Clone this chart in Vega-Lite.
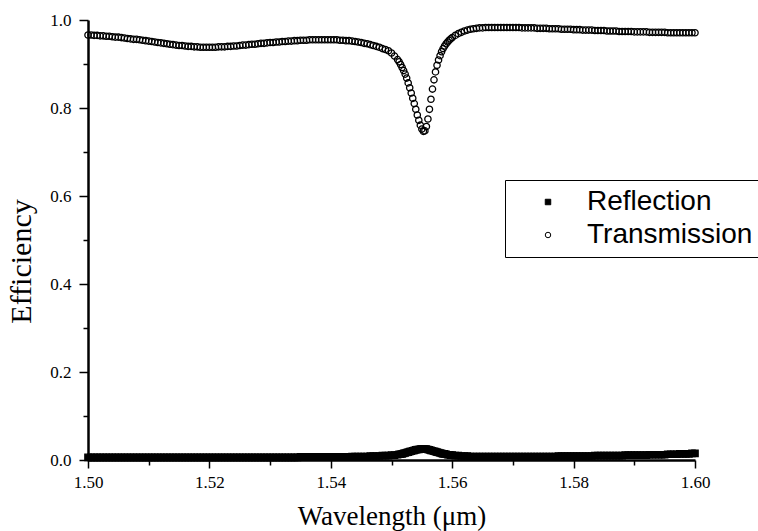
{
  "$schema": "https://vega.github.io/schema/vega-lite/v6.json",
  "width": 607,
  "height": 440,
  "autosize": "none",
  "padding": {"left": 88, "top": 20, "right": 63, "bottom": 71},
  "background": "white",
  "config": {
    "view": {"stroke": null},
    "axis": {
      "domainColor": "black", "domainWidth": 2.5, "tickColor": "black", "tickWidth": 1.5,
      "labelFont": "Liberation Serif", "labelFontSize": 17, "labelColor": "black",
      "titleFont": "Liberation Serif", "titleFontSize": 27, "titleFontWeight": "normal", "titleColor": "black",
      "grid": false
    },
    "legend": {
      "title": null, "orient": "none", "legendX": 417, "legendY": 160,
      "strokeColor": "black", "fillColor": "white", "padding": 8,
      "labelFont": "Liberation Sans", "labelFontSize": 28, "labelColor": "black", "labelLimit": 400,
      "symbolOffset": 21, "labelOffset": 25, "rowPadding": 5,
      "symbolSize": 30, "symbolStrokeColor": "black", "symbolStrokeWidth": 1
    }
  },
  "data": {"values": [
    {"w":1.5000,"Reflection":0.006,"Transmission":0.966},
    {"w":1.5005,"Reflection":0.006,"Transmission":0.966},
    {"w":1.5010,"Reflection":0.006,"Transmission":0.965},
    {"w":1.5015,"Reflection":0.006,"Transmission":0.965},
    {"w":1.5020,"Reflection":0.006,"Transmission":0.964},
    {"w":1.5025,"Reflection":0.006,"Transmission":0.964},
    {"w":1.5030,"Reflection":0.006,"Transmission":0.963},
    {"w":1.5035,"Reflection":0.006,"Transmission":0.963},
    {"w":1.5040,"Reflection":0.006,"Transmission":0.962},
    {"w":1.5045,"Reflection":0.006,"Transmission":0.961},
    {"w":1.5050,"Reflection":0.006,"Transmission":0.961},
    {"w":1.5055,"Reflection":0.006,"Transmission":0.960},
    {"w":1.5060,"Reflection":0.006,"Transmission":0.959},
    {"w":1.5065,"Reflection":0.006,"Transmission":0.958},
    {"w":1.5070,"Reflection":0.006,"Transmission":0.957},
    {"w":1.5075,"Reflection":0.006,"Transmission":0.956},
    {"w":1.5080,"Reflection":0.006,"Transmission":0.956},
    {"w":1.5085,"Reflection":0.006,"Transmission":0.955},
    {"w":1.5090,"Reflection":0.006,"Transmission":0.954},
    {"w":1.5095,"Reflection":0.006,"Transmission":0.953},
    {"w":1.5100,"Reflection":0.006,"Transmission":0.952},
    {"w":1.5105,"Reflection":0.006,"Transmission":0.951},
    {"w":1.5110,"Reflection":0.006,"Transmission":0.950},
    {"w":1.5115,"Reflection":0.006,"Transmission":0.949},
    {"w":1.5120,"Reflection":0.006,"Transmission":0.948},
    {"w":1.5125,"Reflection":0.006,"Transmission":0.947},
    {"w":1.5130,"Reflection":0.006,"Transmission":0.946},
    {"w":1.5135,"Reflection":0.006,"Transmission":0.945},
    {"w":1.5140,"Reflection":0.006,"Transmission":0.944},
    {"w":1.5145,"Reflection":0.006,"Transmission":0.943},
    {"w":1.5150,"Reflection":0.006,"Transmission":0.942},
    {"w":1.5155,"Reflection":0.006,"Transmission":0.942},
    {"w":1.5160,"Reflection":0.006,"Transmission":0.941},
    {"w":1.5165,"Reflection":0.006,"Transmission":0.940},
    {"w":1.5170,"Reflection":0.006,"Transmission":0.940},
    {"w":1.5175,"Reflection":0.006,"Transmission":0.939},
    {"w":1.5180,"Reflection":0.006,"Transmission":0.939},
    {"w":1.5185,"Reflection":0.006,"Transmission":0.938},
    {"w":1.5190,"Reflection":0.006,"Transmission":0.938},
    {"w":1.5195,"Reflection":0.006,"Transmission":0.938},
    {"w":1.5200,"Reflection":0.006,"Transmission":0.938},
    {"w":1.5205,"Reflection":0.006,"Transmission":0.938},
    {"w":1.5210,"Reflection":0.006,"Transmission":0.938},
    {"w":1.5215,"Reflection":0.006,"Transmission":0.939},
    {"w":1.5220,"Reflection":0.006,"Transmission":0.939},
    {"w":1.5225,"Reflection":0.006,"Transmission":0.939},
    {"w":1.5230,"Reflection":0.006,"Transmission":0.940},
    {"w":1.5235,"Reflection":0.006,"Transmission":0.940},
    {"w":1.5240,"Reflection":0.006,"Transmission":0.941},
    {"w":1.5245,"Reflection":0.006,"Transmission":0.941},
    {"w":1.5250,"Reflection":0.006,"Transmission":0.942},
    {"w":1.5255,"Reflection":0.006,"Transmission":0.943},
    {"w":1.5260,"Reflection":0.006,"Transmission":0.943},
    {"w":1.5265,"Reflection":0.006,"Transmission":0.944},
    {"w":1.5270,"Reflection":0.006,"Transmission":0.945},
    {"w":1.5275,"Reflection":0.006,"Transmission":0.945},
    {"w":1.5280,"Reflection":0.006,"Transmission":0.946},
    {"w":1.5285,"Reflection":0.006,"Transmission":0.947},
    {"w":1.5290,"Reflection":0.006,"Transmission":0.947},
    {"w":1.5295,"Reflection":0.006,"Transmission":0.948},
    {"w":1.5300,"Reflection":0.006,"Transmission":0.949},
    {"w":1.5305,"Reflection":0.006,"Transmission":0.949},
    {"w":1.5310,"Reflection":0.006,"Transmission":0.950},
    {"w":1.5315,"Reflection":0.006,"Transmission":0.950},
    {"w":1.5320,"Reflection":0.006,"Transmission":0.951},
    {"w":1.5325,"Reflection":0.006,"Transmission":0.951},
    {"w":1.5330,"Reflection":0.006,"Transmission":0.952},
    {"w":1.5335,"Reflection":0.006,"Transmission":0.952},
    {"w":1.5340,"Reflection":0.006,"Transmission":0.953},
    {"w":1.5345,"Reflection":0.006,"Transmission":0.953},
    {"w":1.5350,"Reflection":0.007,"Transmission":0.954},
    {"w":1.5355,"Reflection":0.007,"Transmission":0.954},
    {"w":1.5360,"Reflection":0.007,"Transmission":0.954},
    {"w":1.5365,"Reflection":0.007,"Transmission":0.955},
    {"w":1.5370,"Reflection":0.007,"Transmission":0.955},
    {"w":1.5375,"Reflection":0.007,"Transmission":0.955},
    {"w":1.5380,"Reflection":0.007,"Transmission":0.955},
    {"w":1.5385,"Reflection":0.007,"Transmission":0.955},
    {"w":1.5390,"Reflection":0.007,"Transmission":0.955},
    {"w":1.5395,"Reflection":0.007,"Transmission":0.955},
    {"w":1.5400,"Reflection":0.007,"Transmission":0.955},
    {"w":1.5405,"Reflection":0.007,"Transmission":0.955},
    {"w":1.5410,"Reflection":0.007,"Transmission":0.955},
    {"w":1.5415,"Reflection":0.007,"Transmission":0.954},
    {"w":1.5420,"Reflection":0.007,"Transmission":0.954},
    {"w":1.5425,"Reflection":0.007,"Transmission":0.953},
    {"w":1.5430,"Reflection":0.007,"Transmission":0.953},
    {"w":1.5435,"Reflection":0.008,"Transmission":0.952},
    {"w":1.5440,"Reflection":0.008,"Transmission":0.951},
    {"w":1.5445,"Reflection":0.008,"Transmission":0.950},
    {"w":1.5450,"Reflection":0.008,"Transmission":0.949},
    {"w":1.5455,"Reflection":0.008,"Transmission":0.947},
    {"w":1.5460,"Reflection":0.008,"Transmission":0.946},
    {"w":1.5465,"Reflection":0.009,"Transmission":0.944},
    {"w":1.5470,"Reflection":0.009,"Transmission":0.942},
    {"w":1.5475,"Reflection":0.009,"Transmission":0.940},
    {"w":1.5480,"Reflection":0.009,"Transmission":0.938},
    {"w":1.5485,"Reflection":0.010,"Transmission":0.935},
    {"w":1.5490,"Reflection":0.010,"Transmission":0.933},
    {"w":1.5495,"Reflection":0.010,"Transmission":0.930},
    {"w":1.5500,"Reflection":0.011,"Transmission":0.925},
    {"w":1.5505,"Reflection":0.011,"Transmission":0.918},
    {"w":1.5510,"Reflection":0.012,"Transmission":0.910},
    {"w":1.55125,"Reflection":0.013,"Transmission":0.905},
    {"w":1.5515,"Reflection":0.013,"Transmission":0.899},
    {"w":1.55175,"Reflection":0.014,"Transmission":0.892},
    {"w":1.5520,"Reflection":0.015,"Transmission":0.885},
    {"w":1.55225,"Reflection":0.016,"Transmission":0.877},
    {"w":1.5525,"Reflection":0.017,"Transmission":0.868},
    {"w":1.55275,"Reflection":0.018,"Transmission":0.857},
    {"w":1.5530,"Reflection":0.019,"Transmission":0.846},
    {"w":1.55325,"Reflection":0.020,"Transmission":0.834},
    {"w":1.5535,"Reflection":0.021,"Transmission":0.822},
    {"w":1.55375,"Reflection":0.022,"Transmission":0.810},
    {"w":1.5540,"Reflection":0.023,"Transmission":0.797},
    {"w":1.55425,"Reflection":0.024,"Transmission":0.784},
    {"w":1.5545,"Reflection":0.024,"Transmission":0.772},
    {"w":1.55475,"Reflection":0.025,"Transmission":0.761},
    {"w":1.5550,"Reflection":0.025,"Transmission":0.752},
    {"w":1.55525,"Reflection":0.025,"Transmission":0.747},
    {"w":1.5555,"Reflection":0.025,"Transmission":0.748},
    {"w":1.55575,"Reflection":0.025,"Transmission":0.758},
    {"w":1.5560,"Reflection":0.024,"Transmission":0.775},
    {"w":1.55625,"Reflection":0.023,"Transmission":0.797},
    {"w":1.5565,"Reflection":0.022,"Transmission":0.820},
    {"w":1.55675,"Reflection":0.021,"Transmission":0.843},
    {"w":1.5570,"Reflection":0.020,"Transmission":0.864},
    {"w":1.55725,"Reflection":0.019,"Transmission":0.882},
    {"w":1.5575,"Reflection":0.018,"Transmission":0.897},
    {"w":1.55775,"Reflection":0.017,"Transmission":0.909},
    {"w":1.5580,"Reflection":0.016,"Transmission":0.919},
    {"w":1.55825,"Reflection":0.015,"Transmission":0.928},
    {"w":1.5585,"Reflection":0.014,"Transmission":0.935},
    {"w":1.55875,"Reflection":0.014,"Transmission":0.941},
    {"w":1.5590,"Reflection":0.013,"Transmission":0.946},
    {"w":1.55925,"Reflection":0.012,"Transmission":0.950},
    {"w":1.5595,"Reflection":0.012,"Transmission":0.954},
    {"w":1.55975,"Reflection":0.011,"Transmission":0.957},
    {"w":1.5600,"Reflection":0.011,"Transmission":0.960},
    {"w":1.5605,"Reflection":0.010,"Transmission":0.965},
    {"w":1.5610,"Reflection":0.010,"Transmission":0.969},
    {"w":1.5615,"Reflection":0.009,"Transmission":0.972},
    {"w":1.5620,"Reflection":0.009,"Transmission":0.975},
    {"w":1.5625,"Reflection":0.009,"Transmission":0.977},
    {"w":1.5630,"Reflection":0.008,"Transmission":0.979},
    {"w":1.5635,"Reflection":0.008,"Transmission":0.980},
    {"w":1.5640,"Reflection":0.008,"Transmission":0.981},
    {"w":1.5645,"Reflection":0.008,"Transmission":0.982},
    {"w":1.5650,"Reflection":0.008,"Transmission":0.982},
    {"w":1.5655,"Reflection":0.008,"Transmission":0.983},
    {"w":1.5660,"Reflection":0.008,"Transmission":0.983},
    {"w":1.5665,"Reflection":0.008,"Transmission":0.983},
    {"w":1.5670,"Reflection":0.008,"Transmission":0.983},
    {"w":1.5675,"Reflection":0.008,"Transmission":0.983},
    {"w":1.5680,"Reflection":0.008,"Transmission":0.983},
    {"w":1.5685,"Reflection":0.008,"Transmission":0.983},
    {"w":1.5690,"Reflection":0.008,"Transmission":0.983},
    {"w":1.5695,"Reflection":0.008,"Transmission":0.983},
    {"w":1.5700,"Reflection":0.008,"Transmission":0.983},
    {"w":1.5705,"Reflection":0.008,"Transmission":0.983},
    {"w":1.5710,"Reflection":0.008,"Transmission":0.983},
    {"w":1.5715,"Reflection":0.008,"Transmission":0.982},
    {"w":1.5720,"Reflection":0.008,"Transmission":0.982},
    {"w":1.5725,"Reflection":0.008,"Transmission":0.982},
    {"w":1.5730,"Reflection":0.008,"Transmission":0.982},
    {"w":1.5735,"Reflection":0.008,"Transmission":0.982},
    {"w":1.5740,"Reflection":0.008,"Transmission":0.981},
    {"w":1.5745,"Reflection":0.008,"Transmission":0.981},
    {"w":1.5750,"Reflection":0.008,"Transmission":0.981},
    {"w":1.5755,"Reflection":0.008,"Transmission":0.981},
    {"w":1.5760,"Reflection":0.008,"Transmission":0.980},
    {"w":1.5765,"Reflection":0.008,"Transmission":0.980},
    {"w":1.5770,"Reflection":0.008,"Transmission":0.980},
    {"w":1.5775,"Reflection":0.009,"Transmission":0.980},
    {"w":1.5780,"Reflection":0.009,"Transmission":0.979},
    {"w":1.5785,"Reflection":0.009,"Transmission":0.979},
    {"w":1.5790,"Reflection":0.009,"Transmission":0.979},
    {"w":1.5795,"Reflection":0.009,"Transmission":0.979},
    {"w":1.5800,"Reflection":0.009,"Transmission":0.978},
    {"w":1.5805,"Reflection":0.009,"Transmission":0.978},
    {"w":1.5810,"Reflection":0.009,"Transmission":0.978},
    {"w":1.5815,"Reflection":0.009,"Transmission":0.977},
    {"w":1.5820,"Reflection":0.009,"Transmission":0.977},
    {"w":1.5825,"Reflection":0.009,"Transmission":0.977},
    {"w":1.5830,"Reflection":0.009,"Transmission":0.977},
    {"w":1.5835,"Reflection":0.010,"Transmission":0.976},
    {"w":1.5840,"Reflection":0.010,"Transmission":0.976},
    {"w":1.5845,"Reflection":0.010,"Transmission":0.976},
    {"w":1.5850,"Reflection":0.010,"Transmission":0.976},
    {"w":1.5855,"Reflection":0.010,"Transmission":0.975},
    {"w":1.5860,"Reflection":0.010,"Transmission":0.975},
    {"w":1.5865,"Reflection":0.010,"Transmission":0.975},
    {"w":1.5870,"Reflection":0.010,"Transmission":0.975},
    {"w":1.5875,"Reflection":0.010,"Transmission":0.974},
    {"w":1.5880,"Reflection":0.010,"Transmission":0.974},
    {"w":1.5885,"Reflection":0.011,"Transmission":0.974},
    {"w":1.5890,"Reflection":0.011,"Transmission":0.974},
    {"w":1.5895,"Reflection":0.011,"Transmission":0.974},
    {"w":1.5900,"Reflection":0.011,"Transmission":0.973},
    {"w":1.5905,"Reflection":0.011,"Transmission":0.973},
    {"w":1.5910,"Reflection":0.011,"Transmission":0.973},
    {"w":1.5915,"Reflection":0.011,"Transmission":0.973},
    {"w":1.5920,"Reflection":0.011,"Transmission":0.973},
    {"w":1.5925,"Reflection":0.012,"Transmission":0.972},
    {"w":1.5930,"Reflection":0.012,"Transmission":0.972},
    {"w":1.5935,"Reflection":0.012,"Transmission":0.972},
    {"w":1.5940,"Reflection":0.012,"Transmission":0.972},
    {"w":1.5945,"Reflection":0.012,"Transmission":0.972},
    {"w":1.5950,"Reflection":0.012,"Transmission":0.972},
    {"w":1.5955,"Reflection":0.013,"Transmission":0.971},
    {"w":1.5960,"Reflection":0.013,"Transmission":0.971},
    {"w":1.5965,"Reflection":0.013,"Transmission":0.971},
    {"w":1.5970,"Reflection":0.013,"Transmission":0.971},
    {"w":1.5975,"Reflection":0.014,"Transmission":0.971},
    {"w":1.5980,"Reflection":0.014,"Transmission":0.971},
    {"w":1.5985,"Reflection":0.014,"Transmission":0.971},
    {"w":1.5990,"Reflection":0.014,"Transmission":0.971},
    {"w":1.5995,"Reflection":0.015,"Transmission":0.971},
    {"w":1.6000,"Reflection":0.015,"Transmission":0.971}
  ]},
  "transform": [{"fold": ["Reflection", "Transmission"], "as": ["series", "eff"]}],
  "mark": {"type": "point", "filled": true, "strokeWidth": 1.3, "size": 40, "opacity": 1},
  "encoding": {
    "x": {
      "field": "w", "type": "quantitative",
      "scale": {"domain": [1.5, 1.6], "nice": false, "zero": false},
      "axis": {
        "title": "Wavelength (μm)",
        "values": [1.50, 1.51, 1.52, 1.53, 1.54, 1.55, 1.56, 1.57, 1.58, 1.59, 1.60],
        "labelExpr": "round(datum.value*100) % 2 == 0 ? format(datum.value, '.2f') : ''",
        "tickSize": {"condition": {"test": "round(datum.value*100) % 2 == 0", "value": 8}, "value": 5},
        "labelFont": "Liberation Serif", "labelFontSize": 17,
        "titleFont": "Liberation Serif", "titleFontSize": 27,
        "labelPadding": 6,
        "titlePadding": 13,
        "labelFlush": false
      }
    },
    "y": {
      "field": "eff", "type": "quantitative",
      "scale": {"domain": [0, 1], "nice": false},
      "axis": {
        "title": "Efficiency",
        "values": [0, 0.1, 0.2, 0.3, 0.4, 0.5, 0.6, 0.7, 0.8, 0.9, 1.0],
        "labelExpr": "round(datum.value*10) % 2 == 0 ? format(datum.value, '.1f') : ''",
        "tickSize": {"condition": {"test": "round(datum.value*10) % 2 == 0", "value": 9}, "value": 5},
        "labelFont": "Liberation Serif", "labelFontSize": 17,
        "titleFont": "Liberation Serif", "titleFontSize": 30,
        "labelPadding": 8,
        "titlePadding": 13,
        "titleY": 241,
        "labelFlush": false
      }
    },
    "shape": {
      "field": "series", "type": "nominal",
      "scale": {"domain": ["Reflection", "Transmission"], "range": ["square", "circle"]}
    },
    "fill": {
      "field": "series", "type": "nominal",
      "scale": {"domain": ["Reflection", "Transmission"], "range": ["black", "transparent"]}
    },
    "stroke": {
      "field": "series", "type": "nominal",
      "scale": {"domain": ["Reflection", "Transmission"], "range": ["black", "black"]}
    }
  }
}
